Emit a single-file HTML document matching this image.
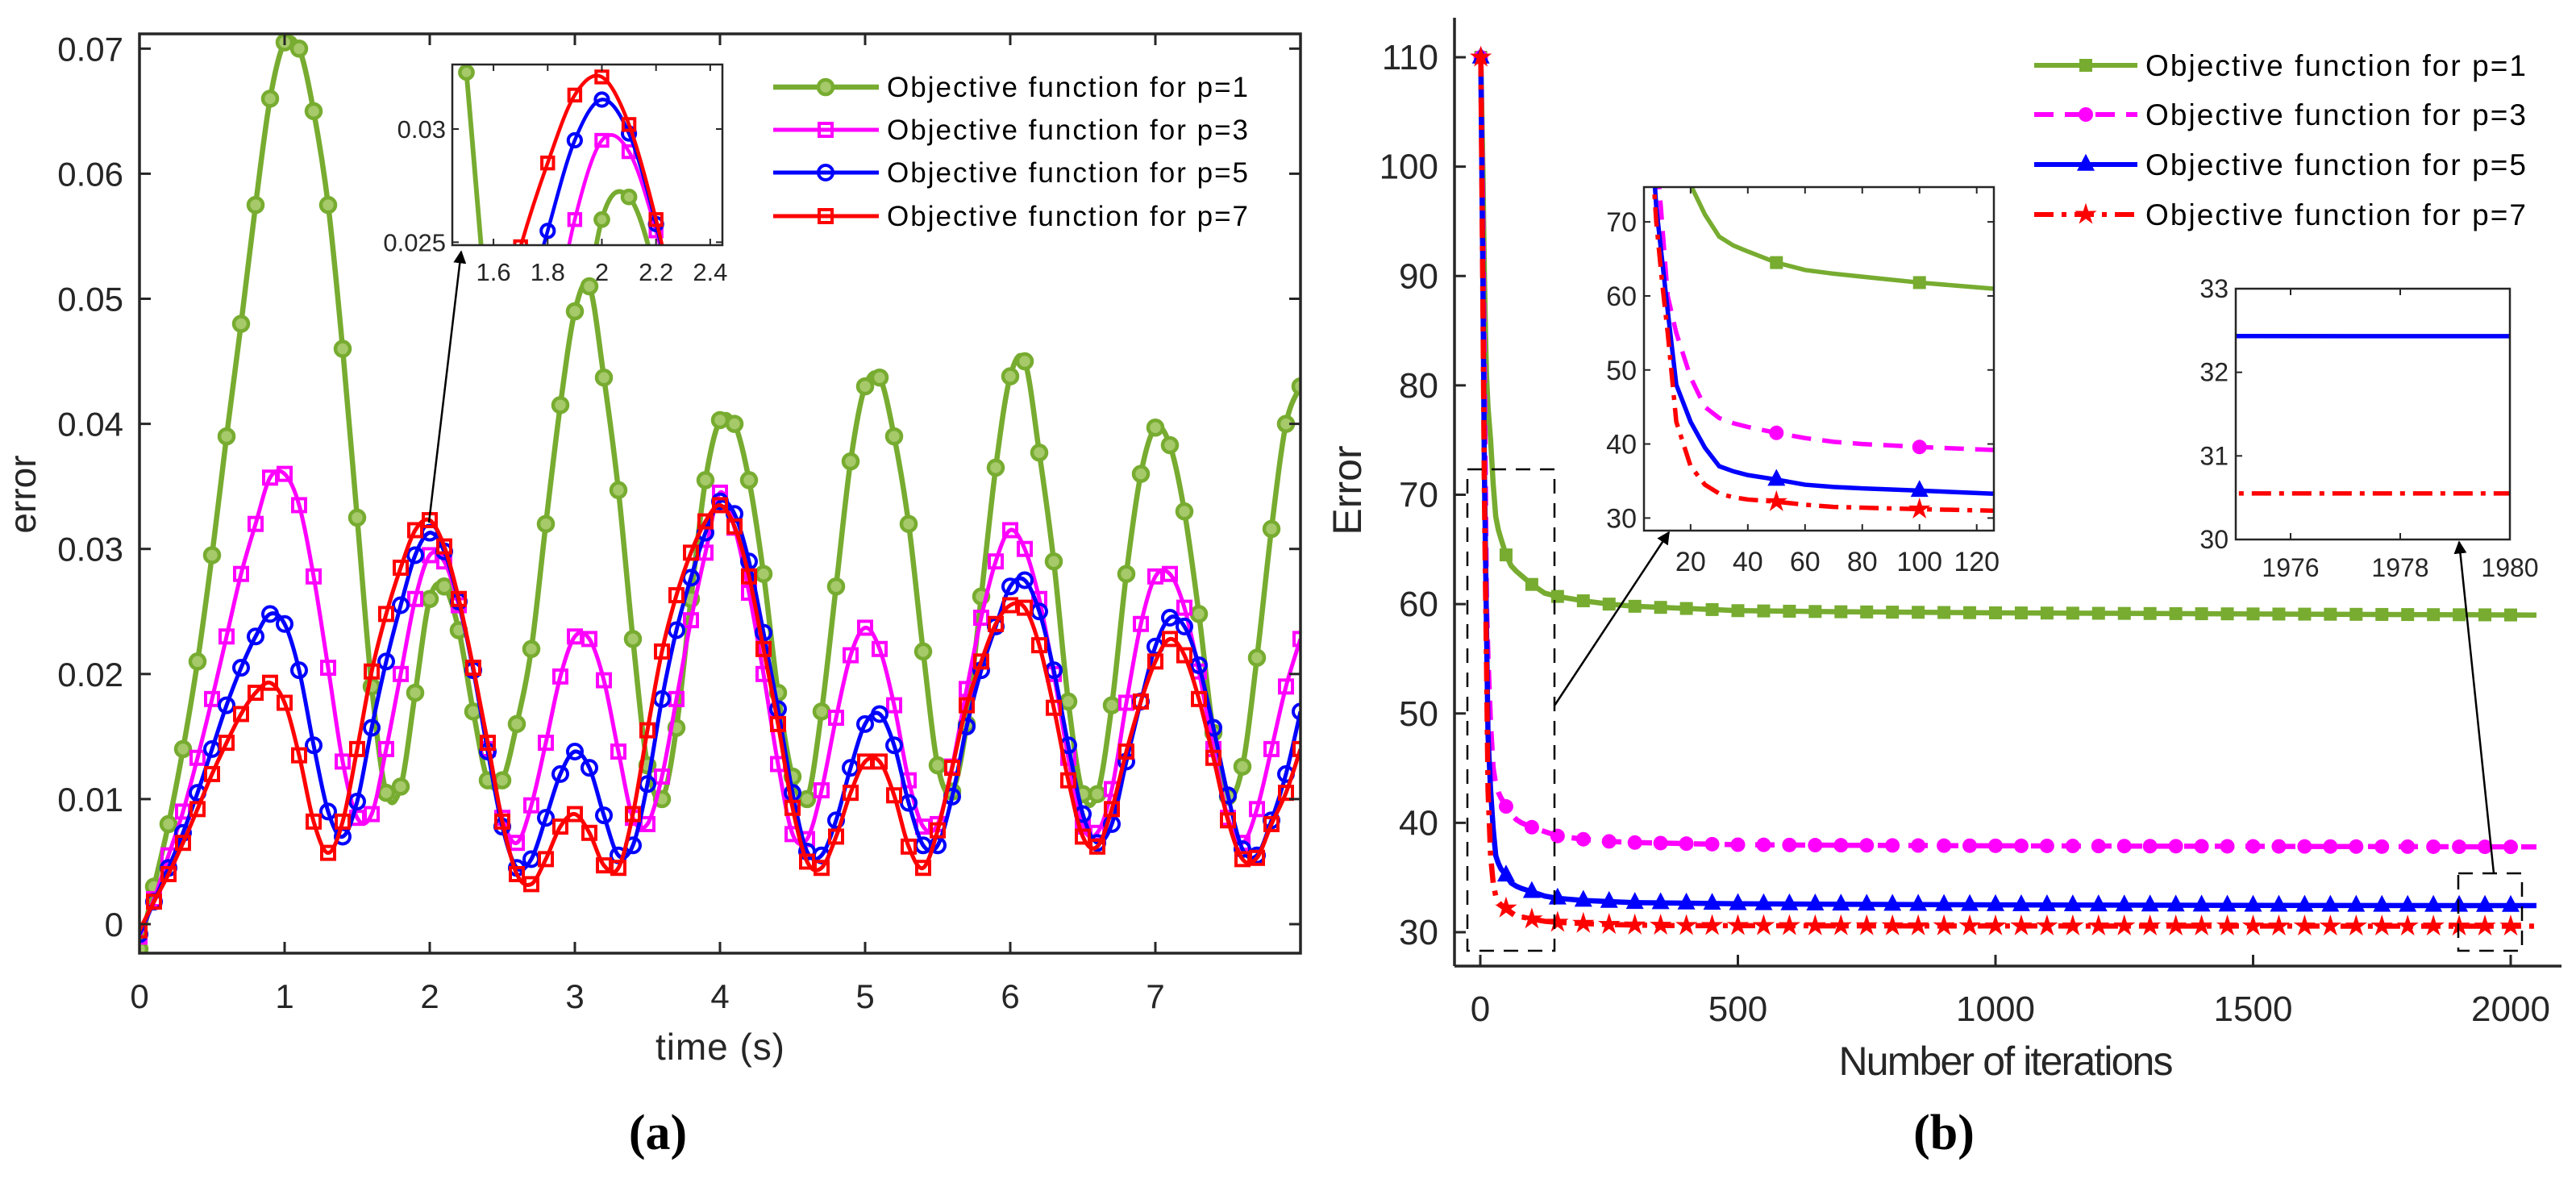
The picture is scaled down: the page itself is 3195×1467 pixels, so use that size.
<!DOCTYPE html>
<html><head><meta charset="utf-8"><style>
html,body{margin:0;padding:0;background:#fff}
svg{display:block;font-family:"Liberation Sans",Arial,sans-serif}
</style></head><body>
<svg id="fig" width="3195" height="1467" viewBox="0 0 3195 1467" xmlns="http://www.w3.org/2000/svg">
<defs>
<clipPath id="clipA"><rect x="173" y="42" width="1440" height="1140"/></clipPath>
<clipPath id="clipAi"><rect x="561" y="80" width="335" height="224"/></clipPath>
<clipPath id="clipB"><rect x="1804" y="0" width="1391" height="1198"/></clipPath>
<clipPath id="clipBi1"><rect x="2039" y="232" width="434" height="426"/></clipPath>
<clipPath id="clipBi2"><rect x="2773" y="358" width="340" height="311"/></clipPath>
<marker id="arr" viewBox="0 0 10 10" refX="9" refY="5" markerWidth="16" markerHeight="16" markerUnits="userSpaceOnUse" orient="auto"><path d="M0,0 L10,5 L0,10 z" fill="#000"/></marker>
</defs>
</svg>
<script>
// ---------- data panel (a) ----------
const timeStep = 0.1;
const errP1 = [-0.002,0.003,0.008,0.014,0.021,0.0295,0.039,0.048,0.0575,0.066,0.0705,0.070,0.065,0.0575,0.046,0.0325,0.019,0.0105,0.011,0.0185,0.026,0.027,0.0235,0.017,0.0115,0.0115,0.016,0.022,0.032,0.0415,0.049,0.051,0.0437,0.0347,0.0228,0.0127,0.010,0.0157,0.026,0.0355,0.0403,0.040,0.0355,0.028,0.0185,0.0118,0.010,0.017,0.027,0.037,0.043,0.0437,0.039,0.032,0.0218,0.0127,0.0106,0.016,0.0262,0.0365,0.0438,0.045,0.0377,0.029,0.0178,0.0104,0.0104,0.0175,0.028,0.036,0.0397,0.0383,0.033,0.0248,0.0153,0.0102,0.0126,0.0213,0.0316,0.040,0.043];
const errP3 = [-0.001,0.002,0.0055,0.009,0.0133,0.018,0.023,0.028,0.032,0.0357,0.036,0.0335,0.0278,0.0205,0.013,0.0085,0.0088,0.014,0.020,0.026,0.0295,0.029,0.0255,0.0205,0.014,0.0085,0.0065,0.0095,0.0145,0.0198,0.023,0.0228,0.0195,0.0138,0.0085,0.008,0.0118,0.018,0.0243,0.0297,0.0345,0.0317,0.0265,0.020,0.0128,0.0072,0.0068,0.0107,0.0165,0.0215,0.0237,0.022,0.0175,0.0115,0.0078,0.008,0.0126,0.0188,0.0245,0.029,0.0315,0.030,0.026,0.020,0.0133,0.0078,0.0073,0.0108,0.0177,0.024,0.0278,0.028,0.0253,0.0202,0.014,0.0085,0.0065,0.0092,0.014,0.019,0.0228];
const errP5 = [-0.0008,0.0018,0.0045,0.0073,0.0105,0.014,0.0175,0.0205,0.023,0.0248,0.024,0.0203,0.0143,0.009,0.007,0.0098,0.0157,0.021,0.0255,0.0295,0.0313,0.0298,0.0258,0.0203,0.0138,0.0078,0.0045,0.0052,0.0085,0.012,0.0138,0.0125,0.0087,0.0055,0.0063,0.0112,0.018,0.0235,0.0277,0.0313,0.0338,0.0328,0.029,0.0233,0.0172,0.0105,0.0058,0.0055,0.0083,0.0125,0.016,0.0168,0.0143,0.0097,0.0063,0.0063,0.0102,0.0158,0.0203,0.0238,0.027,0.0275,0.025,0.0203,0.0143,0.0088,0.0065,0.008,0.013,0.0178,0.0222,0.0245,0.0238,0.0207,0.0157,0.0103,0.006,0.0055,0.0083,0.012,0.017];
const errP7 = [-0.0005,0.0018,0.004,0.0065,0.0092,0.012,0.0145,0.0168,0.0185,0.0193,0.0177,0.0135,0.0082,0.0057,0.0082,0.014,0.0202,0.0248,0.0285,0.0315,0.0323,0.0302,0.026,0.0205,0.0145,0.0082,0.004,0.0032,0.0052,0.0078,0.0088,0.0073,0.0047,0.0045,0.0088,0.0155,0.0218,0.0263,0.0297,0.0322,0.0335,0.0318,0.0278,0.022,0.016,0.0093,0.005,0.0045,0.007,0.0105,0.013,0.013,0.0103,0.0062,0.0045,0.0075,0.0125,0.0175,0.021,0.024,0.0255,0.0253,0.0223,0.0173,0.0115,0.007,0.0062,0.0092,0.0138,0.0178,0.021,0.0228,0.0215,0.018,0.0133,0.0083,0.0052,0.0053,0.008,0.0105,0.014];
const aYTicks = [0,0.01,0.02,0.03,0.04,0.05,0.06,0.07];
const aYTickLabels = ["0","0.01","0.02","0.03","0.04","0.05","0.06","0.07"];
const aXTicks = [0,1,2,3,4,5,6,7];
const aiXTicks = [1.6,1.8,2,2.2,2.4];
const aiXTickLabels = ["1.6","1.8","2","2.2","2.4"];
const aiYTicks = [0.025,0.03];
const aiYTickLabels = ["0.025","0.03"];
// ---------- data panel (b) ----------
const iterations = [1,5,8,10,12,15,20,25,30,35,40,50,60,70,80,100,125,150,200,250,300,400,500,700,1000,1500,2050];
const objP1 = [110,100,90,85,81,78,75,71,68,66.8,66,64.5,63.5,63,62.6,61.8,61,60.7,60.3,60,59.8,59.6,59.4,59.3,59.2,59.1,59.0];
const objP3 = [110,95,80,70,60,55,49,45,43.5,42.8,42.3,41.5,40.8,40.3,40,39.6,39.2,38.8,38.5,38.3,38.2,38.1,38,37.95,37.9,37.85,37.8];
const objP5 = [110,90,72,65,58,48,43,39.5,37,36.3,35.8,35.2,34.5,34.2,34,33.7,33.3,33.1,32.9,32.8,32.7,32.65,32.6,32.55,32.5,32.45,32.43];
const objP7 = [110,88,70,62,55,43,37,34.5,33.3,32.8,32.5,32.2,31.8,31.5,31.4,31.2,31,30.9,30.8,30.7,30.65,30.6,30.6,30.58,30.57,30.56,30.55];
const bYTicks = [30,40,50,60,70,80,90,100,110];
const bXTicks = [0,500,1000,1500,2000];
const bi1XTicks = [20,40,60,80,100,120];
const bi1YTicks = [30,40,50,60,70];
const bi2XTicks = [1976,1978,1980];
const bi2YTicks = [30,31,32,33];

const NS="http://www.w3.org/2000/svg";
const svg=document.getElementById('fig');
function el(tag,attrs,parent){const e=document.createElementNS(NS,tag);for(const k in attrs)e.setAttribute(k,attrs[k]);(parent||svg).appendChild(e);return e;}
function lin(d0,d1,r0,r1){return v=>r0+(v-d0)*(r1-r0)/(d1-d0);}
function smooth(pts){let d=`M${pts[0][0]},${pts[0][1]}`;for(let i=0;i<pts.length-1;i++){const p0=pts[i-1]||pts[i],p1=pts[i],p2=pts[i+1],p3=pts[i+2]||p2;
d+=` C${p1[0]+(p2[0]-p0[0])/6},${p1[1]+(p2[1]-p0[1])/6} ${p2[0]-(p3[0]-p1[0])/6},${p2[1]-(p3[1]-p1[1])/6} ${p2[0]},${p2[1]}`;}return d;}
function interp(xs,ys,x){for(let i=0;i<xs.length-1;i++){if(x>=xs[i]&&x<=xs[i+1])return ys[i]+(ys[i+1]-ys[i])*(x-xs[i])/(xs[i+1]-xs[i]);}return ys[ys.length-1];}
function marker(g,type,x,y,s,color){
 let m;
 if(type==='fcircle'){m=el('circle',{cx:x,cy:y,r:s,fill:'#a6c96a',stroke:color,'stroke-width':4.5},g);}
 else if(type==='circle'){m=el('circle',{cx:x,cy:y,r:s,fill:'none',stroke:color,'stroke-width':4},g);}
 else if(type==='square'){m=el('rect',{x:x-s,y:y-s,width:2*s,height:2*s,fill:'none',stroke:color,'stroke-width':4},g);}
 else if(type==='fsquare'){m=el('rect',{x:x-s,y:y-s,width:2*s,height:2*s,fill:color},g);}
 else if(type==='dot'){m=el('circle',{cx:x,cy:y,r:s,fill:color},g);}
 else if(type==='tri'){m=el('polygon',{points:`${x},${y-s*1.2} ${x-s},${y+s*0.7} ${x+s},${y+s*0.7}`,fill:color},g);}
 else if(type==='star'){let p=[];for(let k=0;k<10;k++){const r=k%2?s*0.45:s*1.2;const a=-Math.PI/2+k*Math.PI/5;p.push(`${x+r*Math.cos(a)},${y+r*Math.sin(a)}`);}m=el('polygon',{points:p.join(' '),fill:color},g);}
 
 
 return m;}
function text(t,x,y,size,anchor,attrs,name){const e=el('text',Object.assign({x:x,y:y,'font-size':size,'text-anchor':anchor||'middle',fill:'#262626'},attrs||{}));e.textContent=t;
 
 
 return e;}

// ================= PANEL A =================
const ax=lin(0,8,173,1613), ay=lin(-0.00232,0.07118,1182,42);
const times=errP1.map((_,i)=>+(i*timeStep).toFixed(2));
const seriesA=[
 {name:'p1',data:errP1,color:'#77ac30',w:6.5,mk:'fcircle',ms:9},
 {name:'p3',data:errP3,color:'#ff00ff',w:5,mk:'square',ms:8},
 {name:'p5',data:errP5,color:'#0000ff',w:5,mk:'circle',ms:9},
 {name:'p7',data:errP7,color:'#ff0000',w:5,mk:'square',ms:8}];
function drawA(gx,gy,clip,scale,parentName){
 const g=el('g',{'clip-path':`url(#${clip})`});
 
 
 seriesA.forEach(s=>{
  const pts=times.map((t,i)=>[gx(t),gy(s.data[i])]);
  const p=el('path',{d:smooth(pts),fill:'none',stroke:s.color,'stroke-width':s.w*scale},g);
  
  
  pts.forEach(q=>marker(g,s.mk,q[0],q[1],s.ms*scale,s.color));
 });
}
drawA(ax,ay,'clipA',1,'plot-a-series');
el('rect',{x:173,y:42,width:1440,height:1140,fill:'none',stroke:'#262626','stroke-width':3.5});
aYTicks.forEach((v,i)=>{const y=ay(v);el('line',{x1:173,y1:y,x2:187,y2:y,stroke:'#262626','stroke-width':3});el('line',{x1:1613,y1:y,x2:1599,y2:y,stroke:'#262626','stroke-width':3});
 text(aYTickLabels[i],153,y+15,42,'end',{},'y-tick-label');});
aXTicks.forEach(v=>{const x=ax(v);el('line',{x1:x,y1:1182,x2:x,y2:1168,stroke:'#262626','stroke-width':3});el('line',{x1:x,y1:42,x2:x,y2:56,stroke:'#262626','stroke-width':3});
 text(String(v),x,1250,42,'middle',{},'x-tick-label');});
text('time (s)',893,1314,46,'middle',{textLength:160},'x-axis-title');
text('error',44,613,46,'middle',{transform:'rotate(-90 44 613)'},'y-axis-title');
text('(a)',816,1425,62,'middle',{'font-family':'"Liberation Serif",serif','font-weight':'bold',fill:'#000'},'caption-a');
// inset a
el('rect',{x:561,y:80,width:335,height:224,fill:'#fff',stroke:'none'});
const aix=lin(1.448,2.445,561,896), aiy=lin(0.02487,0.03285,304,80);
drawA(aix,aiy,'clipAi',0.9,'inset-a-series');
el('rect',{x:561,y:80,width:335,height:224,fill:'none',stroke:'#262626','stroke-width':2.5});
aiXTicks.forEach((v,i)=>{const x=aix(v);el('line',{x1:x,y1:304,x2:x,y2:296,stroke:'#262626','stroke-width':2});el('line',{x1:x,y1:80,x2:x,y2:88,stroke:'#262626','stroke-width':2});
 text(aiXTickLabels[i],x,348,31,'middle',{},'inset-x-tick-label');});
aiYTicks.forEach((v,i)=>{const y=aiy(v);el('line',{x1:561,y1:y,x2:569,y2:y,stroke:'#262626','stroke-width':2});el('line',{x1:896,y1:y,x2:888,y2:y,stroke:'#262626','stroke-width':2});
 text(aiYTickLabels[i],553,y+11,31,'end',{},'inset-y-tick-label');});
el('line',{x1:532,y1:648,x2:572,y2:312,stroke:'#000','stroke-width':2.5,'marker-end':'url(#arr)'});
// legend a
seriesA.forEach((s,i)=>{const y=[108,161,214,268][i];
 el('line',{x1:959,y1:y,x2:1090,y2:y,stroke:s.color,'stroke-width':s.w});
 marker(svg,s.mk,1024,y,s.ms,s.color);
 text('Objective function for p='+[1,3,5,7][i],1100,y+12,35,'start',{textLength:448,fill:'#000'},'legend-entry-a');});

// ================= PANEL B =================
const bx=lin(0,2000,1836,3114), by=lin(30,110,1156,71);
const seriesB=[
 {name:'p1',data:objP1,color:'#77ac30',dash:'',mk:'fsquare',ms:8},
 {name:'p3',data:objP3,color:'#ff00ff',dash:'24 14',mk:'dot',ms:9},
 {name:'p5',data:objP5,color:'#0000ff',dash:'',mk:'tri',ms:11},
 {name:'p7',data:objP7,color:'#ff0000',dash:'24 10 6 10',mk:'star',ms:12}];
function drawB(gx,gy,clip,markIters,w,parentName){
 const g=el('g',{'clip-path':`url(#${clip})`});
 
 
 seriesB.forEach(s=>{
  const pts=iterations.map((t,i)=>`${gx(t)},${gy(s.data[i])}`).join(' ');
  const p=el('polyline',{points:pts,fill:'none',stroke:s.color,'stroke-width':w,'stroke-dasharray':s.dash},g);
  
  
  markIters.forEach(t=>marker(g,s.mk,gx(t),gy(interp(iterations,s.data,t)),s.ms,s.color));
 });
}
const mainMarks=[1];for(let t=50;t<=2000;t+=50)mainMarks.push(t);
drawB(bx,by,'clipB',mainMarks,6.5,'plot-b-series');
el('line',{x1:1804,y1:22,x2:1804,y2:1198,stroke:'#262626','stroke-width':3.5});
el('line',{x1:1804,y1:1198,x2:3177,y2:1198,stroke:'#262626','stroke-width':3.5});
bYTicks.forEach(v=>{const y=by(v);el('line',{x1:1804,y1:y,x2:1818,y2:y,stroke:'#262626','stroke-width':3});
 text(String(v),1784,y+15,44,'end',{},'y-tick-label');});
bXTicks.forEach(v=>{const x=bx(v);el('line',{x1:x,y1:1198,x2:x,y2:1184,stroke:'#262626','stroke-width':3});
 text(String(v),x,1266,44,'middle',{},'x-tick-label');});
text('Number of iterations',2488,1333,50,'middle',{textLength:415},'x-axis-title');
text('Error',1688,608,50,'middle',{transform:'rotate(-90 1688 608)'},'y-axis-title');
text('(b)',2411,1425,62,'middle',{'font-family':'"Liberation Serif",serif','font-weight':'bold',fill:'#000'},'caption-b');
el('rect',{x:1820,y:582,width:108,height:597,fill:'none',stroke:'#000','stroke-width':2.5,'stroke-dasharray':'18 12'});
el('rect',{x:3049,y:1083,width:79,height:96,fill:'none',stroke:'#000','stroke-width':2.5,'stroke-dasharray':'18 12'});
el('line',{x1:1928,y1:875,x2:2070,y2:660,stroke:'#000','stroke-width':2.5,'marker-end':'url(#arr)'});
el('line',{x1:3093,y1:1083,x2:3050,y2:672,stroke:'#000','stroke-width':2.5,'marker-end':'url(#arr)'});
// inset b1
el('rect',{x:2039,y:232,width:434,height:426,fill:'#fff'});
const b1x=lin(3.7,126,2039,2473), b1y=lin(28.3,74.7,658,232);
drawB(b1x,b1y,'clipBi1',[50,100],5.5,'inset-b1-series');
el('rect',{x:2039,y:232,width:434,height:426,fill:'none',stroke:'#262626','stroke-width':2.5});
bi1XTicks.forEach(v=>{const x=b1x(v);el('line',{x1:x,y1:658,x2:x,y2:650,stroke:'#262626','stroke-width':2});el('line',{x1:x,y1:232,x2:x,y2:240,stroke:'#262626','stroke-width':2});
 text(String(v),x,708,34,'middle',{},'inset-x-tick-label');});
bi1YTicks.forEach(v=>{const y=b1y(v);el('line',{x1:2039,y1:y,x2:2047,y2:y,stroke:'#262626','stroke-width':2});el('line',{x1:2473,y1:y,x2:2465,y2:y,stroke:'#262626','stroke-width':2});
 text(String(v),2030,y+12,34,'end',{},'inset-y-tick-label');});
// inset b2
el('rect',{x:2773,y:358,width:340,height:311,fill:'#fff'});
const b2x=lin(1975,1980,2773,3113), b2y=lin(30,33,669,358);
drawB(b2x,b2y,'clipBi2',[],5.5,'inset-b2-series');
el('rect',{x:2773,y:358,width:340,height:311,fill:'none',stroke:'#262626','stroke-width':2.5});
bi2XTicks.forEach(v=>{const x=b2x(v);el('line',{x1:x,y1:669,x2:x,y2:661,stroke:'#262626','stroke-width':2});el('line',{x1:x,y1:358,x2:x,y2:366,stroke:'#262626','stroke-width':2});
 text(String(v),x,715,32,'middle',{},'inset-x-tick-label');});
bi2YTicks.forEach(v=>{const y=b2y(v);el('line',{x1:2773,y1:y,x2:2781,y2:y,stroke:'#262626','stroke-width':2});
 text(String(v),2764,y+11,32,'end',{},'inset-y-tick-label');});
// legend b
seriesB.forEach((s,i)=>{const y=[81,142,204,266][i];
 el('line',{x1:2523,y1:y,x2:2651,y2:y,stroke:s.color,'stroke-width':6,'stroke-dasharray':s.dash});
 marker(svg,s.mk,2587,y,s.ms,s.color);
 text('Objective function for p='+[1,3,5,7][i],2661,y+13,37,'start',{textLength:472,fill:'#000'},'legend-entry-b');});
</script>
</body></html>
